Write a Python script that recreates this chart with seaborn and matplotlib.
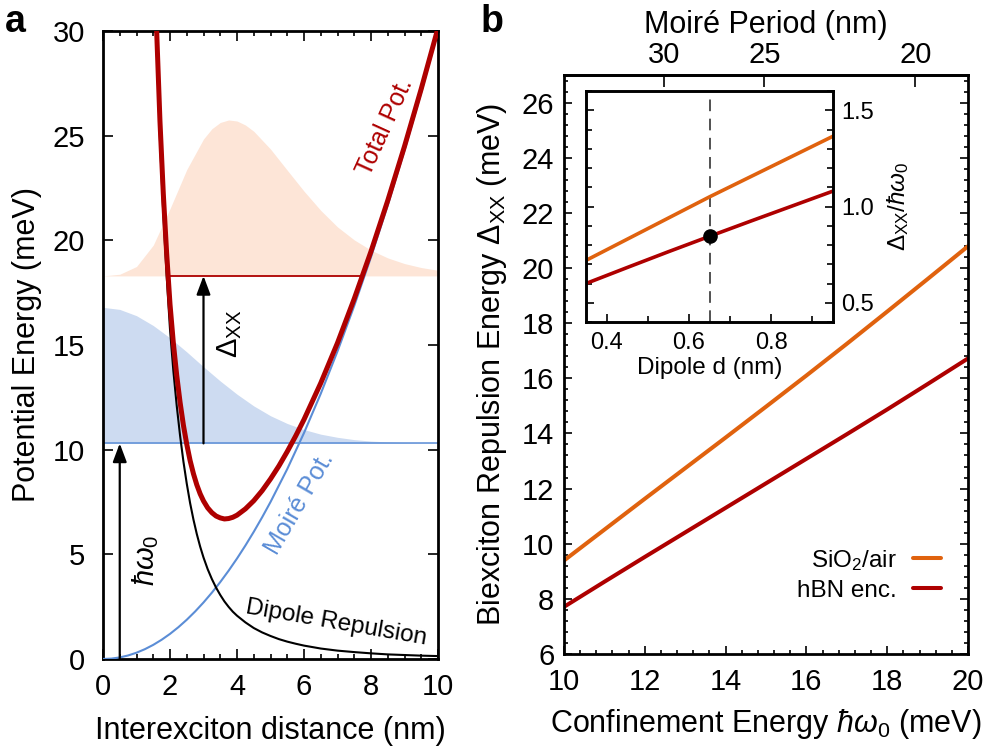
import numpy as np
import matplotlib
matplotlib.use('Agg')
import matplotlib.pyplot as plt
import seaborn as sns
from matplotlib.ticker import MultipleLocator

# ---------------- panel a : potentials (meV) vs interexciton distance (nm)
r_moire = [0.0, 0.25, 0.5, 0.75, 1.0, 1.25, 1.5, 1.75, 2.0, 2.25, 2.5, 2.75, 3.0, 3.25,
           3.5, 3.75, 4.0, 4.25, 4.5, 4.75, 5.0, 5.5, 6.0, 6.5, 7.0, 7.5, 8.0, 8.5,
           9.0, 9.5, 10.0]
moire_pot = [0.0, 0.019, 0.075, 0.169, 0.3, 0.469, 0.675, 0.919, 1.2, 1.519, 1.875, 2.269,
             2.7, 3.169, 3.675, 4.219, 4.8, 5.419, 6.075, 6.769, 7.5, 9.075, 10.8, 12.675,
             14.7, 16.875, 19.2, 21.675, 24.3, 27.075, 30.0]

r_pair = [1.5, 1.6, 1.7, 1.8, 1.9, 2.0, 2.1, 2.2, 2.3, 2.4, 2.5, 2.6, 2.7, 2.8, 2.9, 3.0,
          3.125, 3.25, 3.375, 3.5, 3.625, 3.75, 3.875, 4.0,
          4.25, 4.5, 4.75, 5.0, 5.25, 5.5, 5.75, 6.0,
          6.5, 7.0, 7.5, 8.0, 8.5, 9.0, 9.5, 10.0]
dipole_rep = [34.96, 29.30, 24.83, 21.26, 18.30, 15.75, 13.77, 12.11, 10.68, 9.44, 8.38,
              7.45, 6.66, 5.97, 5.37, 4.85,
              4.29, 3.82, 3.41, 3.06, 2.75, 2.49, 2.26, 2.07,
              1.75, 1.48, 1.27, 1.10, 0.95, 0.83, 0.73, 0.64,
              0.50, 0.40, 0.33, 0.27, 0.22, 0.19, 0.16, 0.14]
total_pot = [35.64, 30.07, 25.70, 22.23, 19.38, 16.95, 15.09, 13.56, 12.27, 11.17, 10.26,
             9.48, 8.85, 8.32, 7.89, 7.55,
             7.22, 6.99, 6.83, 6.74, 6.69, 6.71, 6.77, 6.87,
             7.17, 7.56, 8.04, 8.60, 9.22, 9.91, 10.65, 11.44,
             13.18, 15.10, 17.21, 19.47, 21.90, 24.49, 27.24, 30.14]

# exciton ground state density (drawn on top of the hbar*omega0 level)
r_exc = [0.0, 0.5, 1.0, 1.5, 2.0, 2.5, 3.0, 3.5, 4.0, 4.5, 5.0,
         5.5, 6.0, 6.5, 7.0, 7.5, 8.0, 8.5, 9.0, 9.5, 10.0]
exc_density = [16.80, 16.70, 16.40, 15.93, 15.34, 14.67, 13.96, 13.28, 12.65, 12.09, 11.62,
               11.25, 10.96, 10.74, 10.59, 10.48, 10.41, 10.37, 10.34, 10.32, 10.31]
# biexciton relative density (drawn on top of its level)
r_xx = [0.0, 0.5, 1.0, 1.5, 2.0, 2.5, 3.0, 3.25, 3.5, 3.75, 4.0, 4.25, 4.5,
        5.0, 5.5, 6.0, 6.5, 7.0, 7.5, 8.0, 8.5, 9.0, 9.5, 10.0]
xx_density = [18.30, 18.38, 18.75, 19.77, 21.51, 23.38, 24.84, 25.33, 25.63, 25.75, 25.70,
              25.51, 25.21, 24.36, 23.35, 22.35, 21.43, 20.64, 20.02, 19.53, 19.16,
              18.89, 18.70, 18.57]
hbar_omega0 = 10.3
xx_level = 18.3
xx_level_span = [1.95, 7.74]
arrow_r = [0.5, 3.0]

# ---------------- panel b : biexciton repulsion vs confinement energy
confinement = [10, 11, 12, 13, 14, 15, 16, 17, 18, 19, 20]
dxx_sio2 = [9.39, 10.51, 11.63, 12.74, 13.85, 14.97, 16.10, 17.25, 18.42, 19.60, 20.79]
dxx_hbn = [7.71, 8.62, 9.52, 10.41, 11.30, 12.19, 13.08, 13.97, 14.87, 15.79, 16.72]
period_times_energy = 374.0   # moire period (nm) x hbar omega0 (meV)
period_ticks = [30, 25, 20]

# inset : ratio vs dipole length
dipole_d = [0.35, 0.45, 0.55, 0.65, 0.75, 0.85, 0.95]
ratio_sio2 = [0.72, 0.83, 0.94, 1.05, 1.155, 1.26, 1.365]
ratio_hbn = [0.60, 0.683, 0.765, 0.845, 0.924, 1.002, 1.08]
d_marker = 0.65
ratio_marker = 0.845

red = '#ae0000'
orange = '#e0620e'
blue = '#5b8dd6'
blue_fill = '#cddbf1'
orange_fill = '#fde5d7'

sns.set_style('ticks')
plt.rcParams['font.family'] = ['Liberation Sans', 'DejaVu Sans']
plt.rcParams['mathtext.fontset'] = 'custom'
plt.rcParams['mathtext.rm'] = 'Liberation Sans'
plt.rcParams['mathtext.it'] = 'Liberation Sans:italic'
plt.rcParams['mathtext.bf'] = 'Liberation Sans:bold'
plt.rcParams['axes.linewidth'] = 2.0
plt.rcParams['axes.edgecolor'] = 'black'
plt.rcParams['text.color'] = 'black'
plt.rcParams['axes.labelcolor'] = 'black'
plt.rcParams['xtick.color'] = 'black'
plt.rcParams['ytick.color'] = 'black'

fig = plt.figure(figsize=(9.88, 7.5), dpi=100)
W, H = 988.0, 750.0

def px_axes(left, top, right, bottom):
    return fig.add_axes([left / W, 1 - bottom / H, (right - left) / W, (bottom - top) / H])

# ================= panel a
axa = px_axes(103, 31, 438, 659)
axa.fill_between(r_exc, hbar_omega0, exc_density, color=blue_fill, lw=0, zorder=1)
axa.fill_between(r_xx, xx_level, xx_density, color=orange_fill, lw=0, zorder=1)
axa.axhline(hbar_omega0, color=blue, lw=1.1, zorder=2)
axa.hlines(xx_level, xx_level_span[0], xx_level_span[1], color=red, lw=1.3, zorder=2)
sns.lineplot(x=r_moire, y=moire_pot, ax=axa, color=blue, lw=1.5, zorder=3)
sns.lineplot(x=r_pair, y=dipole_rep, ax=axa, color='black', lw=1.5, zorder=3)
sns.lineplot(x=r_pair, y=total_pot, ax=axa, color=red, lw=3.6, zorder=4)

arrow_kw = dict(arrowstyle='-|>,head_length=0.8,head_width=0.3', color='black',
                lw=1.6, mutation_scale=14, shrinkA=0, shrinkB=0)
axa.annotate('', xy=(arrow_r[0], hbar_omega0), xytext=(arrow_r[0], 0), arrowprops=arrow_kw, zorder=5)
axa.annotate('', xy=(arrow_r[1], xx_level), xytext=(arrow_r[1], hbar_omega0), arrowprops=arrow_kw, zorder=5)

axa.text(1.28, 4.73, r'$\hbar\omega_0$', rotation=90, ha='center', va='center', fontsize=21)
axa.text(3.79, 15.56, r'$\Delta_{\rm XX}$', rotation=90, ha='center', va='center', fontsize=21)
axa.text(8.42, 25.4, 'Total Pot.', rotation=65.6, color=red, ha='center', va='center',
         rotation_mode='anchor', fontsize=18)
axa.text(5.88, 7.45, 'Moiré Pot.', rotation=59.8, color=blue, ha='center', va='center',
         rotation_mode='anchor', fontsize=18)
axa.text(6.97, 1.70, 'Dipole Repulsion', rotation=-9.9, color='black', ha='center', va='center',
         rotation_mode='anchor', fontsize=17.5)

axa.set_xlim(0, 10)
axa.set_ylim(0, 30)
axa.xaxis.set_major_locator(MultipleLocator(2))
axa.xaxis.set_minor_locator(MultipleLocator(0.5))
axa.yaxis.set_major_locator(MultipleLocator(5))
axa.tick_params(which='both', direction='in', top=True, right=True, width=1.2, labelsize=21)
axa.tick_params(which='major', length=7)
axa.tick_params(which='minor', length=3.5)
axa.tick_params(axis='x', pad=10)
axa.tick_params(axis='y', pad=13)
axa.set_xlabel('Interexciton distance (nm)', fontsize=22)
axa.set_ylabel('Potential Energy (meV)', fontsize=22)
axa.xaxis.set_label_coords(0.5, -0.09)
axa.yaxis.set_label_coords(-0.183, 0.5)

# ================= panel b
axb = px_axes(564, 75, 968, 654)
sns.lineplot(x=confinement, y=dxx_sio2, ax=axb, color=orange, lw=2.9, label='SiO$_2$/air')
sns.lineplot(x=confinement, y=dxx_hbn, ax=axb, color=red, lw=2.9, label='hBN enc.')
axb.set_xlim(10, 20)
axb.set_ylim(6, 27)
axb.xaxis.set_major_locator(MultipleLocator(2))
axb.xaxis.set_minor_locator(MultipleLocator(0.4))
axb.yaxis.set_major_locator(MultipleLocator(2))
axb.yaxis.set_minor_locator(MultipleLocator(0.4))
axb.tick_params(which='both', direction='in', top=False, right=True, width=1.2, labelsize=21)
axb.tick_params(which='major', length=5.5)
axb.tick_params(which='minor', length=3)
axb.tick_params(axis='x', pad=10)
axb.tick_params(axis='y', pad=7)
axb.set_xlabel(r'Confinement Energy $\hbar\omega_0$ (meV)', fontsize=22)
axb.set_ylabel(r'Biexciton Repulsion Energy $\Delta_{\rm XX}$ (meV)', fontsize=22)
axb.xaxis.set_label_coords(0.5, -0.092)
axb.yaxis.set_label_coords(-0.136, 0.5)
axb.legend(loc='lower right', bbox_to_anchor=(0.933, 0.09), frameon=False, markerfirst=False,
           fontsize=17.5, handlelength=1.15, handletextpad=0.66, labelspacing=0.3,
           borderpad=0, borderaxespad=0)


def energy_to_period(e):
    e = np.asarray(e, dtype=float)
    with np.errstate(divide='ignore', invalid='ignore'):
        return period_times_energy / e


sec = axb.secondary_xaxis('top', functions=(energy_to_period, energy_to_period))
sec.set_xticks(period_ticks)
sec.tick_params(direction='in', length=8.5, width=1.2, labelsize=21, pad=4, colors='black')
sec.set_xlabel('Moiré Period (nm)', fontsize=22, labelpad=6)

# ================= inset
axi = px_axes(586, 91, 833, 322)
axi.set_facecolor('white')
sns.lineplot(x=dipole_d, y=ratio_sio2, ax=axi, color=orange, lw=2.6)
sns.lineplot(x=dipole_d, y=ratio_hbn, ax=axi, color=red, lw=2.6)
axi.axvline(d_marker, color='#333333', lw=1.2, ls=(0, (7, 4.5)), zorder=1)
axi.plot([d_marker], [ratio_marker], 'o', color='black', ms=9.5, zorder=5)
axi.set_xlim(0.35, 0.95)
axi.set_ylim(0.4, 1.6)
axi.xaxis.set_major_locator(MultipleLocator(0.2))
axi.xaxis.set_minor_locator(MultipleLocator(0.1))
axi.yaxis.set_major_locator(MultipleLocator(0.5))
axi.yaxis.set_minor_locator(MultipleLocator(0.1))
axi.tick_params(which='both', direction='in', left=True, right=True, top=False,
                labelleft=False, labelright=True, width=1.2, labelsize=17)
axi.tick_params(which='major', length=6)
axi.tick_params(which='minor', length=4.5)
axi.tick_params(axis='x', pad=7)
axi.tick_params(axis='y', pad=6)
for s in axi.spines.values():
    s.set_linewidth(2.1)
axi.set_xlabel('Dipole d (nm)', fontsize=17.5)
axi.xaxis.set_label_coords(0.5, -0.15)
axi.yaxis.set_label_position('right')
axi.set_ylabel(r'$\Delta_{\rm XX}/\hbar\omega_0$', fontsize=17.5)
axi.yaxis.set_label_coords(1.21, 0.5)

fig.text(5 / W, 1 - 32 / H, 'a', fontsize=27, fontweight='bold', ha='left', va='baseline')
fig.text(481 / W, 1 - 32 / H, 'b', fontsize=27, fontweight='bold', ha='left', va='baseline')

fig.savefig('out.png', dpi=100)
